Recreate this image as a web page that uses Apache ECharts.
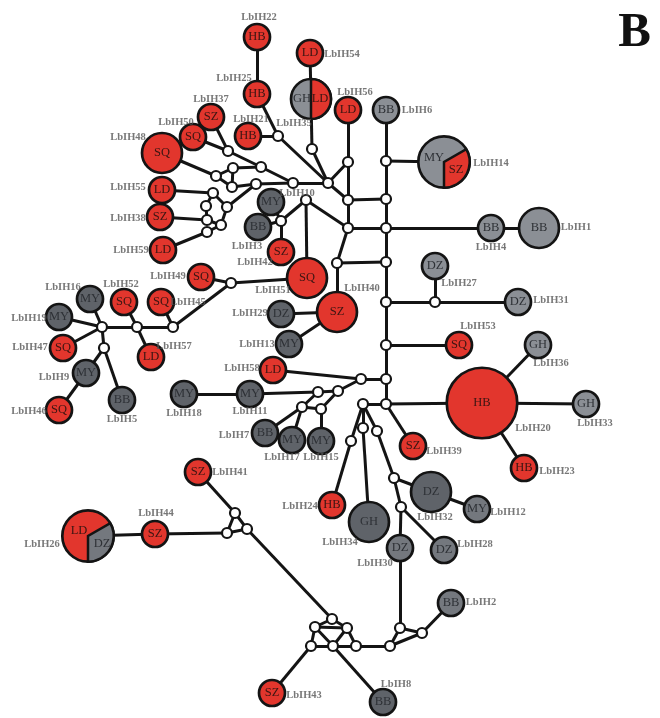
<!DOCTYPE html>
<html>
<head>
<meta charset="utf-8">
<script src="https://cdn.jsdelivr.net/npm/echarts@6/dist/echarts.min.js"></script>
<style>
  html, body { margin: 0; padding: 0; background: #fff; }
  #net { width: 660px; height: 718px; }
</style>
</head>
<body>
<div id="net"></div>
<script>
// haplotypes: name, populations (pop:count), position in the network plane
const hapNames = ["LbIH22","LbIH25","LbIH54","LbIH35","LbIH56","LbIH6","LbIH37","LbIH50","LbIH21","LbIH48",
  "LbIH55","LbIH38","LbIH59","LbIH10","LbIH3","LbIH42","LbIH49","LbIH51","LbIH40","LbIH29",
  "LbIH13","LbIH58","LbIH16","LbIH52","LbIH19","LbIH45","LbIH47","LbIH57","LbIH9","LbIH46",
  "LbIH5","LbIH18","LbIH11","LbIH7","LbIH17","LbIH15","LbIH14","LbIH4","LbIH1","LbIH27",
  "LbIH31","LbIH53","LbIH36","LbIH20","LbIH33","LbIH23","LbIH39","LbIH24","LbIH34","LbIH32",
  "LbIH12","LbIH30","LbIH28","LbIH2","LbIH41","LbIH44","LbIH26","LbIH43","LbIH8"];
const hapPops = [[["HB",1]],[["HB",1]],[["LD",1]],[["GH",1],["LD",1]],[["LD",1]],[["BB",1]],[["SZ",1]],[["SQ",1]],[["HB",1]],[["SQ",2]],
  [["LD",1]],[["SZ",1]],[["LD",1]],[["MY",1]],[["BB",1]],[["SZ",1]],[["SQ",1]],[["SQ",2]],[["SZ",2]],[["DZ",1]],
  [["MY",1]],[["LD",1]],[["MY",1]],[["SQ",1]],[["MY",1]],[["SQ",1]],[["SQ",1]],[["LD",1]],[["MY",1]],[["SQ",1]],
  [["BB",1]],[["MY",1]],[["MY",1]],[["BB",1]],[["MY",1]],[["MY",1]],[["MY",2],["SZ",1]],[["BB",1]],[["BB",2]],[["DZ",1]],
  [["DZ",1]],[["SQ",1]],[["GH",1]],[["HB",5]],[["GH",1]],[["HB",1]],[["SZ",1]],[["HB",1]],[["GH",2]],[["DZ",2]],
  [["MY",1]],[["DZ",1]],[["DZ",1]],[["BB",1]],[["SZ",1]],[["SZ",1]],[["LD",2],["DZ",1]],[["SZ",1]],[["BB",1]]];
const hapX = [257,257,310,311,348,386,211,193,248,162, 162,160,163,271,258,281,201,307,337,281,
  289,273,90,124,59,161,63,151,86,59, 122,184,250,265,292,321,444,491,539,435,
  518,459,538,482,586,524,413,332,369,431, 477,400,444,451,198,155,88,272,383];
const hapY = [37,94,53,99,110,110,117,137,136,153, 190,217,250,202,227,252,277,278,312,314,
  344,370,299,302,317,302,348,357,373,410, 400,394,394,433,440,441,162,228,228,266,
  302,345,345,403,404,468,446,505,522,492, 509,548,550,603,472,534,536,693,702];

// median vectors (unsampled haplotypes)
const mvNames = ["m1","m2","hub","m3","m5","m6","m7","m4","m8","m11","a1","a2","a3","m9",
  "c1","c2","c3","c4","c5","c6","m10","m12","n1","n2","n3","n4","n5",
  "t1","t2","t3","t4","t5","t6","t7","t8","p1","q1","q2","q3","q4","q6","q5",
  "r1","r2","r3","r4","r5","s1","s2","s3","b1","b2","b3","b4","b5","b6","g1","g2","g3"];
const mvX = [278,312,328,348,348,348,337,293,261,228,216,233,232,256,
  213,206,227,207,221,207,306,281,231,173,137,102,104,
  386,386,386,386,386,386,386,386,435,361,338,318,321,302,363,
  351,363,377,394,401,400,390,422,332,315,347,311,333,356,235,227,247];
const mvY = [136,149,183,162,200,228,263,183,167,151,176,168,187,184,
  193,206,207,220,225,232,200,221,283,327,327,327,348,
  161,199,228,262,302,345,379,404,302,379,391,392,409,407,404,
  441,428,431,478,507,628,646,633,619,627,628,646,646,646,513,533,529];

// mutational steps
const steps = [
  ["LbIH22","LbIH25"],["LbIH25","m1"],["LbIH21","m1"],["m1","hub"],["LbIH54","LbIH35"],["LbIH35","m2"],["m2","hub"],
  ["hub","m3"],["hub","m4"],["hub","m5"],["LbIH56","m3"],["m3","m5"],["m5","m6"],["m5","t2"],["m6","t3"],["m6","m7"],
  ["m6","m10"],["m7","t4"],["m7","LbIH40"],["m4","m8"],["m4","m9"],["m8","m11"],["m8","a2"],["m11","LbIH37"],["m11","LbIH50"],
  ["LbIH48","a1"],["a1","a2"],["a1","a3"],["a2","a3"],["a3","m9"],["m9","c3"],["LbIH55","c1"],["c1","c2"],["c1","c3"],
  ["c2","c4"],["c3","c5"],["c4","c5"],["c5","c6"],["LbIH38","c4"],["LbIH59","c6"],["m10","m12"],["m10","LbIH51"],
  ["m12","LbIH10"],["m12","LbIH3"],["m12","LbIH42"],["LbIH51","n1"],["n1","LbIH49"],["n1","n2"],["n2","LbIH45"],["n2","n3"],
  ["n3","LbIH52"],["n3","LbIH57"],["n3","n4"],["n4","LbIH16"],["n4","LbIH19"],["n4","LbIH47"],["n4","n5"],["n5","LbIH9"],
  ["n5","LbIH5"],["LbIH9","LbIH46"],["LbIH40","LbIH29"],["LbIH40","LbIH13"],
  ["LbIH6","t1"],["t1","t2"],["t2","t3"],["t3","t4"],["t4","t5"],["t5","t6"],["t6","t7"],["t7","t8"],["t1","LbIH14"],
  ["t3","LbIH4"],["LbIH4","LbIH1"],["t5","p1"],["p1","LbIH27"],["p1","LbIH31"],["t6","LbIH53"],["t8","LbIH20"],["t8","LbIH39"],
  ["LbIH20","LbIH36"],["LbIH20","LbIH33"],["LbIH20","LbIH23"],["t7","q1"],["q1","LbIH58"],["q1","q2"],["q2","q3"],["q2","q4"],
  ["q3","LbIH11"],["q3","q6"],["q6","q4"],["q6","LbIH7"],["q6","LbIH17"],["q4","LbIH15"],["LbIH11","LbIH18"],["t8","q5"],
  ["q5","r1"],["q5","r2"],["q5","r3"],["r1","LbIH24"],["r2","LbIH34"],["r3","r4"],["r4","LbIH32"],["r4","r5"],["LbIH32","LbIH12"],
  ["r5","LbIH30"],["r5","LbIH28"],["LbIH30","s1"],["s1","s2"],["s1","s3"],["s2","s3"],["s3","LbIH2"],["s2","b6"],
  ["b1","b2"],["b1","b3"],["b2","b3"],["b2","b4"],["b2","b5"],["b3","b5"],["b3","b6"],["b4","b5"],["b5","b6"],
  ["b5","LbIH8"],["b4","LbIH43"],["b1","g3"],["g1","g2"],["g1","g3"],["g2","g3"],["LbIH41","g1"],["LbIH44","g2"],["LbIH44","LbIH26"]
];

// styling
const RED = "#e2362d";
const redPops = ["HB", "LD", "SZ", "SQ"];
const greyTone = { light: "#8b8f95", mid: "#74787e", dark: "#5f6369" };
const darkNodes = ["LbIH10","LbIH3","LbIH29","LbIH13","LbIH16","LbIH19","LbIH9","LbIH5","LbIH18","LbIH11",
  "LbIH7","LbIH17","LbIH15","LbIH34","LbIH32","LbIH8"];
const midNodes = ["LbIH12","LbIH30","LbIH28","LbIH2","LbIH26"];
function popColor(pop, name) {
  if (redPops.includes(pop)) return RED;
  if (darkNodes.includes(name)) return greyTone.dark;
  if (midNodes.includes(name)) return greyTone.mid;
  return greyTone.light;
}
function diameter(n) { return 26 * Math.pow(n, 0.62); }

// outer label offsets (px from node centre)
const labelOffset = {
  LbIH22:[2,-20], LbIH25:[-23,-16], LbIH54:[32,1], LbIH35:[-17,24], LbIH56:[7,-18], LbIH6:[31,0],
  LbIH37:[0,-18], LbIH50:[-17,-15], LbIH21:[3,-17], LbIH48:[-34,-16], LbIH55:[-34,-3], LbIH38:[-32,1],
  LbIH59:[-32,0], LbIH10:[26,-9], LbIH3:[-11,19], LbIH42:[-26,10], LbIH49:[-33,-1], LbIH51:[-34,12],
  LbIH40:[25,-24], LbIH29:[-31,-1], LbIH13:[-32,0], LbIH58:[-31,-2], LbIH16:[-27,-12], LbIH52:[-3,-18],
  LbIH19:[-30,1], LbIH45:[27,0], LbIH47:[-33,-1], LbIH57:[23,-11], LbIH9:[-32,4], LbIH46:[-30,1],
  LbIH5:[0,19], LbIH18:[0,19], LbIH11:[0,17], LbIH7:[-31,2], LbIH17:[-10,17], LbIH15:[0,16],
  LbIH14:[47,1], LbIH4:[0,19], LbIH1:[37,-1], LbIH27:[24,17], LbIH31:[33,-2], LbIH53:[19,-19],
  LbIH36:[13,18], LbIH20:[51,25], LbIH33:[9,19], LbIH23:[33,3], LbIH39:[31,5], LbIH24:[-32,1],
  LbIH34:[-29,20], LbIH32:[4,25], LbIH12:[31,3], LbIH30:[-25,15], LbIH28:[31,-6], LbIH2:[30,-1],
  LbIH41:[32,0], LbIH44:[1,-21], LbIH26:[-46,8], LbIH43:[32,2], LbIH8:[13,-18]
};
// mixed-haplotype wedge: end angle (deg, clockwise from 3 o'clock) and text offsets
const wedgeStyle = {
  LbIH35: { end: 90, text: [[-9, 0], [9, 0]] },
  LbIH14: { end: 90, text: [[-10, -4], [12, 8]] },
  LbIH26: { end: 90, text: [[-9, -5], [14, 8]] }
};

const serif = "'Liberation Serif', 'DejaVu Serif', serif";

const nodes = [];
hapNames.forEach((name, i) => {
  const pops = hapPops[i];
  const total = pops.reduce((s, p) => s + p[1], 0);
  const major = pops.slice().sort((a, b) => b[1] - a[1])[0][0];
  nodes.push({
    name: name,
    value: [hapX[i], hapY[i]],
    symbolSize: diameter(total),
    itemStyle: { color: popColor(major, name), borderColor: "#141414", borderWidth: 2.7 },
    label: {
      show: pops.length === 1,
      formatter: pops[0][0],
      color: redPops.includes(pops[0][0]) ? "#3a1512" : "#2e3136"
    }
  });
});
mvNames.forEach((name, i) => {
  nodes.push({
    name: name,
    value: [mvX[i], mvY[i]],
    symbolSize: 10,
    itemStyle: { color: "#fff", borderColor: "#141414", borderWidth: 2.2 },
    label: { show: false }
  });
});

// rows for the split circles: x, y, diameter, minor fraction, hap index
const wedgeRows = [];
hapNames.forEach((name, i) => {
  const pops = hapPops[i];
  if (pops.length < 2) return;
  const total = pops.reduce((s, p) => s + p[1], 0);
  wedgeRows.push([hapX[i], hapY[i], diameter(total), pops[pops.length - 1][1] / total, i]);
});

const chart = echarts.init(document.getElementById("net"));
chart.setOption({
  backgroundColor: "#fff",
  animation: false,
  title: {
    text: "B", right: 4, top: 4,
    textStyle: { fontFamily: serif, fontSize: 49, fontWeight: "bold", color: "#111" }
  },
  grid: { left: 0, right: 0, top: 0, bottom: 0 },
  xAxis: { type: "value", min: 0, max: 660, show: false },
  yAxis: { type: "value", min: 0, max: 718, inverse: true, show: false },
  series: [
    {
      type: "graph",
      coordinateSystem: "cartesian2d",
      symbol: "circle",
      data: nodes,
      links: steps.map(s => ({ source: s[0], target: s[1] })),
      lineStyle: { color: "#141414", width: 3, opacity: 1, curveness: 0 },
      label: { position: "inside", fontFamily: serif, fontSize: 12.5 },
      emphasis: { disabled: true },
      z: 2
    },
    {
      type: "custom",
      coordinateSystem: "cartesian2d",
      data: wedgeRows,
      silent: true,
      z: 3,
      renderItem: function (params, api) {
        const c = api.coord([api.value(0), api.value(1)]);
        const r = api.value(2) / 2;
        const frac = api.value(3);
        const idx = api.value(4);
        const name = hapNames[idx];
        const pops = hapPops[idx];
        const ws = wedgeStyle[name];
        const end = ws.end * Math.PI / 180;
        const start = end - frac * 2 * Math.PI;
        const minor = pops[pops.length - 1][0];
        const major = pops[0][0];
        const txt = (s, off) => ({
          type: "text",
          style: {
            text: s, x: c[0] + off[0], y: c[1] + off[1], align: "center", verticalAlign: "middle",
            font: "12.5px " + serif,
            fill: redPops.includes(s) ? "#3a1512" : "#2e3136"
          }
        });
        return {
          type: "group",
          children: [
            {
              type: "sector",
              shape: { cx: c[0], cy: c[1], r0: 0, r: r, startAngle: start, endAngle: end, clockwise: true },
              style: { fill: popColor(minor, name), stroke: "#141414", lineWidth: 2.5 }
            },
            txt(major, ws.text[0]),
            txt(minor, ws.text[1])
          ]
        };
      }
    },
    {
      type: "scatter",
      symbolSize: 1,
      silent: true,
      z: 4,
      itemStyle: { color: "rgba(0,0,0,0)" },
      data: hapNames.map((name, i) => ({
        name: name,
        value: [hapX[i], hapY[i]],
        label: { offset: labelOffset[name] }
      })),
      label: {
        show: true,
        position: "inside",
        formatter: "{b}",
        fontFamily: serif,
        fontWeight: "bold",
        fontSize: 10.5,
        color: "#555"
      }
    }
  ]
});
</script>
</body>
</html>
